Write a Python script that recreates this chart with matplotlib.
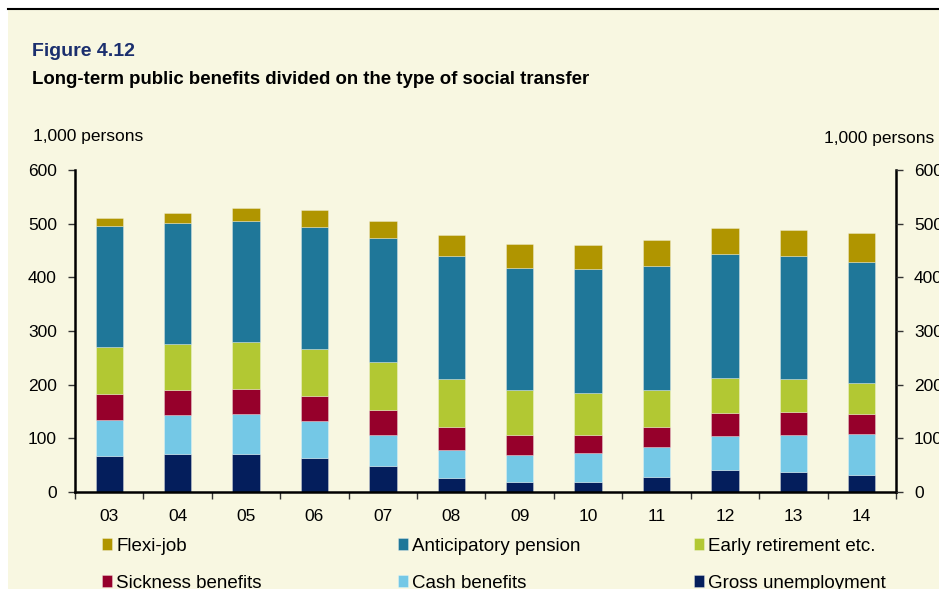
import matplotlib
matplotlib.use("Agg")
import matplotlib.pyplot as plt
import matplotlib.patches as mpatches
import numpy as np

plt.rcParams['font.family'] = ['Liberation Sans', 'DejaVu Sans']

# --- data (1,000 persons) ---
years = ['03', '04', '05', '06', '07', '08', '09', '10', '11', '12', '13', '14']
gross_unemployment = [68, 71, 71, 63, 48, 26, 19, 19, 28, 41, 37, 32]
cash_benefits = [67, 73, 75, 70, 59, 52, 50, 53, 55, 63, 70, 77]
sickness_benefits = [48, 46, 46, 46, 46, 44, 37, 35, 39, 44, 43, 37]
early_retirement = [88, 85, 87, 87, 90, 88, 84, 77, 68, 64, 60, 58]
anticipatory_pension = [225, 226, 226, 228, 230, 229, 228, 231, 232, 232, 229, 225]
flexi_job = [14, 18, 24, 31, 32, 40, 44, 46, 48, 48, 50, 53]

series = [
    ('Gross unemployment', gross_unemployment, '#041E5C'),
    ('Cash benefits', cash_benefits, '#74C8E6'),
    ('Sickness benefits', sickness_benefits, '#96002B'),
    ('Early retirement etc.', early_retirement, '#B2C833'),
    ('Anticipatory pension', anticipatory_pension, '#1F7799'),
    ('Flexi-job', flexi_job, '#B09500'),
]

BG = '#F8F7E1'

fig = plt.figure(figsize=(9.39, 5.89), dpi=100)
fig.patch.set_facecolor('white')

# yellow panel + top rule
panel = mpatches.Rectangle((8 / 939, 0), 1, 1 - 9 / 589, transform=fig.transFigure,
                           facecolor=BG, edgecolor='none', zorder=-10)
fig.patches.append(panel)
fig.add_artist(plt.Line2D([8 / 939, 1], [1 - 9 / 589, 1 - 9 / 589],
                          transform=fig.transFigure, color='black', lw=1.5))

fig.text(32 / 939, 1 - 52 / 589, 'Figure 4.12', fontsize=14, fontweight='bold',
         color='#1B2F6E', va='center', ha='left')
fig.text(32 / 939, 1 - 80 / 589, 'Long-term public benefits divided on the type of social transfer',
         fontsize=13.4, fontweight='bold', color='black', va='center', ha='left')
fig.text(33 / 939, 1 - 137 / 589, '1,000 persons', fontsize=12.5, va='center', ha='left')
fig.text(824 / 939, 1 - 138 / 589, '1,000 persons', fontsize=12.5, va='center', ha='left')

ax = fig.add_axes([75 / 939, 1 - 492 / 589, (896 - 75) / 939, (492 - 170) / 589])
ax.set_facecolor('none')

x = np.arange(len(years))
bottom = np.zeros(len(years))
handles = {}
for name, vals, col in series:
    b = ax.bar(x, vals, width=0.4, bottom=bottom, color=col,
               edgecolor=(1, 1, 1, 0.35), linewidth=0.6, label=name)
    handles[name] = b
    bottom += np.array(vals)

ax.set_xlim(-0.5, len(years) - 0.5)
ax.set_ylim(0, 600)
ax.set_yticks(range(0, 601, 100))

ax.set_xticks(x)
ax.set_xticklabels(years)
ax.set_xticks(np.arange(-0.5, len(years)), minor=True)
ax.tick_params(axis='x', which='major', length=0, pad=12, labelsize=12.5)
ax.tick_params(axis='x', which='minor', length=5, width=1, color='#333333', direction='out')
ax.tick_params(axis='y', length=5, width=1, color='#333333', direction='out', pad=8, labelsize=12.5)

for s in ['left', 'right', 'bottom']:
    ax.spines[s].set_linewidth(1.8)
ax.spines['top'].set_visible(False)

ax2 = ax.twinx()
ax2.set_ylim(0, 600)
ax2.set_yticks(range(0, 601, 100))
ax2.tick_params(axis='y', length=5, width=1, color='#333333', direction='out', pad=8, labelsize=12.5)
for s in ['left', 'right', 'bottom', 'top']:
    ax2.spines[s].set_visible(False)

# legend: three columns, two rows each
legend_cols = [
    (['Flexi-job', 'Sickness benefits'], 102),
    (['Anticipatory pension', 'Cash benefits'], 398),
    (['Early retirement etc.', 'Gross unemployment'], 694),
]
for names, xpx in legend_cols:
    fig.legend([handles[n] for n in names], names, loc='upper left',
               bbox_to_anchor=(xpx / 939, 1 - 538 / 589), frameon=False,
               fontsize=13.5, handlelength=0.55, handleheight=0.6,
               handletextpad=0.22, labelspacing=1.05, borderpad=0, borderaxespad=0)

fig.savefig('out.png', dpi=100)
